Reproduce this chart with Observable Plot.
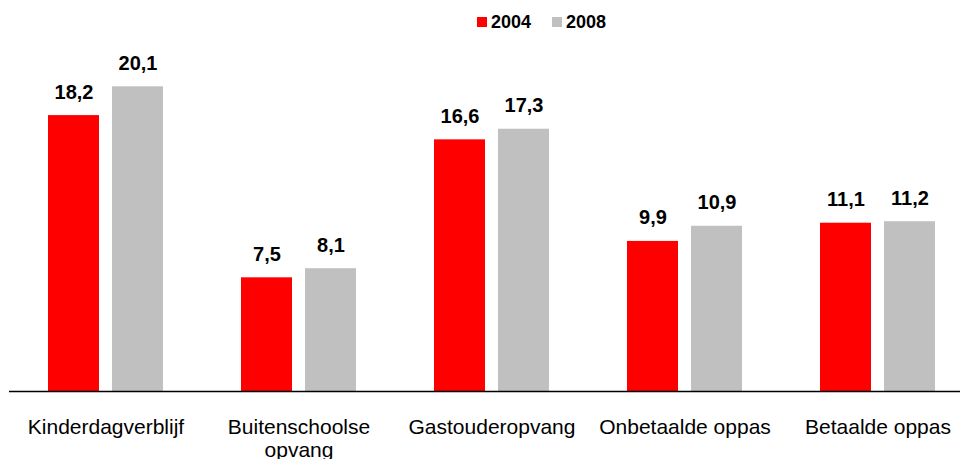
<!DOCTYPE html>
<html>
<head>
<meta charset="utf-8">
<script src="https://cdn.jsdelivr.net/npm/d3@7"></script>
<script src="https://cdn.jsdelivr.net/npm/@observablehq/plot@0.6"></script>
<style>
  html, body { margin: 0; padding: 0; background: #fff; }
  #wrap { position: relative; width: 960px; height: 459px; overflow: hidden; font-family: Arial, "Liberation Sans", sans-serif; }
  .lg-sw { position: absolute; width: 10px; height: 10px; }
  .lg-tx { position: absolute; font-weight: bold; font-size: 18px; line-height: 18px; color: #000; }
</style>
</head>
<body>
<div id="wrap"></div>
<script>
const categories = ["Kinderdagverblijf", "Buitenschoolse opvang", "Gastouderopvang", "Onbetaalde oppas", "Betaalde oppas"];
const tickLabels = ["Kinderdagverblijf", "Buitenschoolse\nopvang", "Gastouderopvang", "Onbetaalde oppas", "Betaalde oppas"];
const years = ["2004", "2008"];
const values2004 = [18.2, 7.5, 16.6, 9.9, 11.1];
const values2008 = [20.1, 8.1, 17.3, 10.9, 11.2];
const colors = ["#ff0000", "#c0c0c0"];

const rows2004 = categories.map((c, i) => ({cat: c, year: "2004", value: values2004[i]}));
const rows2008 = categories.map((c, i) => ({cat: c, year: "2008", value: values2008[i]}));
const labelRows = categories.map((c, i) => ({cat: c, label: tickLabels[i]}));
const fmt = v => v.toFixed(1).replace(".", ",");
const font = "Arial, 'Liberation Sans', sans-serif";

const chart = Plot.plot({
  width: 960,
  height: 459,
  marginLeft: 9,
  marginRight: 0,
  marginTop: 12,
  marginBottom: 68,
  style: {fontFamily: font, background: "#fff", color: "#000"},
  x: {type: "band", domain: categories, range: [9, 974], paddingInner: 0, paddingOuter: 0, axis: null},
  y: {domain: [0, 25], axis: null},
  color: {domain: years, range: colors},
  marks: [
    Plot.barY(rows2004, {x: "cat", y: "value", fill: "year", insetLeft: 39, insetRight: 103}),
    Plot.barY(rows2008, {x: "cat", y: "value", fill: "year", insetLeft: 103, insetRight: 39}),
    Plot.ruleY([0], {stroke: "#000", strokeWidth: 1.5}),
    Plot.text(rows2004, {x: "cat", y: "value", text: d => fmt(d.value), dx: -32, dy: -17, lineAnchor: "bottom", fontSize: 20, fontWeight: "bold", fill: "#000"}),
    Plot.text(rows2008, {x: "cat", y: "value", text: d => fmt(d.value), dx: 32, dy: -17, lineAnchor: "bottom", fontSize: 20, fontWeight: "bold", fill: "#000"}),
    Plot.text(labelRows, {x: "cat", y: () => 0, text: "label", dy: 27, lineAnchor: "top", lineHeight: 1.07, fontSize: 21, fill: "#000"})
  ]
});

const wrap = document.getElementById("wrap");
wrap.appendChild(chart);

// legend overlay
const legendPos = [{sw: 477, tx: 491}, {sw: 552, tx: 566}];
years.forEach((y, i) => {
  const sw = document.createElement("div");
  sw.className = "lg-sw";
  sw.style.left = legendPos[i].sw + "px";
  sw.style.top = "17px";
  sw.style.background = colors[i];
  wrap.appendChild(sw);
  const tx = document.createElement("div");
  tx.className = "lg-tx";
  tx.style.left = legendPos[i].tx + "px";
  tx.style.top = "13px";
  tx.textContent = y;
  wrap.appendChild(tx);
});
</script>
</body>
</html>
